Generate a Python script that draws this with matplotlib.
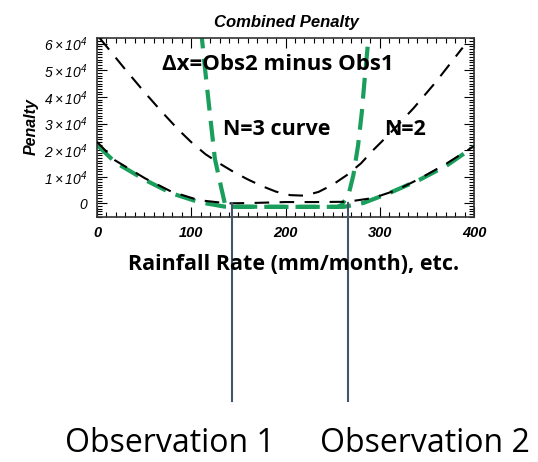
import matplotlib
matplotlib.use('Agg')
import matplotlib.pyplot as plt
from matplotlib.ticker import MultipleLocator

plt.rcParams['mathtext.fontset'] = 'custom'
plt.rcParams['mathtext.rm'] = 'Liberation Sans:italic'
plt.rcParams['mathtext.it'] = 'Liberation Sans:italic'

# upper black curve (N=2, wide)
x_n2 = [3, 10, 30, 51, 69, 86, 100, 115, 130, 145, 160, 175, 190, 205, 220, 235, 250,
        265, 280, 293, 310, 336, 360, 388]
y_n2 = [62000, 59000, 50300, 41500, 34300, 27800, 23000, 18500, 15000, 11800, 9000, 6500,
        4400, 3100, 2900, 4300, 7000, 10600, 15000, 20000, 26000, 35800, 45800, 58500]

# lower black curve
x_low = [0, 19, 51, 79, 108, 139, 170, 200, 230, 265, 293, 318, 343, 371, 400]
y_low = [23100, 16200, 9400, 4400, 1200, 0, 200, 500, 500, 600, 2000, 5000, 9400, 15000, 21500]

# lower green curve
x_glow = [0, 19, 51, 79, 108, 135, 200, 262, 283, 311, 343, 371, 400]
y_glow = [22000, 15500, 8800, 3800, 500, -1200, -1300, -1300, 200, 4000, 9000, 14200, 21300]

# steep green curve (N=3)
x_n3 = [110, 111, 114.6, 120, 125, 132, 136, 140, 200, 255, 259.6, 266.8, 272, 277, 281, 284, 288, 289]
y_n3 = [66000, 63000, 50600, 33000, 16900, 5600, -600, -1300, -1300, -1300, -600, 3100,
        10600, 21800, 34300, 46800, 62000, 66000]

obs_x = [143, 266]

xticks = [0, 100, 200, 300, 400]
yticks = [0, 10000, 20000, 30000, 40000, 50000, 60000]
ytick_labels = ['0', r'$1\times10^4$', r'$2\times10^4$', r'$3\times10^4$',
                r'$4\times10^4$', r'$5\times10^4$', r'$6\times10^4$']

green = '#1a9e5c'
W, H = 538, 462

fig = plt.figure(figsize=(W / 100, H / 100), dpi=100)
ax = fig.add_axes([97 / W, 1 - 216.7 / H, (474 - 97) / W, (216.7 - 38.3) / H])

ax.plot(x_glow, y_glow, color=green, lw=3, dashes=(5, 2.5), zorder=2)
ax.plot(x_n3, y_n3, color=green, lw=3, dashes=(5, 2.5), zorder=2)
ax.plot(x_low, y_low, color='black', lw=1.5, dashes=(7, 5), zorder=3)
ax.plot(x_n2, y_n2, color='black', lw=1.5, dashes=(7, 5), zorder=3)

for xo in obs_x:
    ax.plot([xo, xo], [0, -74400], color='#44546a', lw=1.5, clip_on=False, zorder=4)

ax.set_xlim(0, 400)
ax.set_ylim(-5000, 62000)
ax.set_xticks(xticks)
ax.set_xticklabels([str(v) for v in xticks], fontfamily='Liberation Sans',
                   fontweight='bold', fontstyle='italic', fontsize=10.5)
ax.set_yticks(yticks)
ax.set_yticklabels(ytick_labels, fontfamily='Liberation Sans', fontstyle='italic', fontsize=10)
ax.xaxis.set_minor_locator(MultipleLocator(10))
ax.yaxis.set_minor_locator(MultipleLocator(1000))
ax.tick_params(which='both', direction='in', top=True, right=True, width=0.8)
ax.tick_params(which='major', length=7, pad=7)
ax.tick_params(which='minor', length=3.5)
for s in ax.spines.values():
    s.set_linewidth(1.2)
    s.set_color('#333333')


def ftext(x, y, s, **kw):
    fig.text(x / W, 1 - y / H, s, **kw)


ftext(286, 27, 'Combined Penalty', ha='center', va='baseline', fontfamily='Liberation Sans',
      fontweight='bold', fontstyle='italic', fontsize=12)
ftext(31, 127, 'Penalty', ha='center', va='center', rotation=90, fontfamily='Liberation Sans',
      fontweight='bold', fontstyle='italic', fontsize=11.5)
ftext(162, 70, 'Δx=Obs2 minus Obs1', ha='left', va='baseline', fontfamily='Open Sans',
      fontweight='bold', fontsize=16)
ftext(223, 135, 'N=3 curve', ha='left', va='baseline', fontfamily='Open Sans',
      fontweight='bold', fontsize=15.5)
ftext(384, 135, 'N=2', ha='left', va='baseline', fontfamily='Open Sans',
      fontweight='bold', fontsize=15.5)
ftext(128, 270, 'Rainfall Rate (mm/month), etc.', ha='left', va='baseline',
      fontfamily='Open Sans', fontweight='bold', fontsize=15.5)
ftext(65, 452, 'Observation 1', ha='left', va='baseline', fontfamily='Open Sans', fontsize=23)
ftext(320, 452, 'Observation 2', ha='left', va='baseline', fontfamily='Open Sans', fontsize=23)

fig.savefig('out.png', dpi=100)
